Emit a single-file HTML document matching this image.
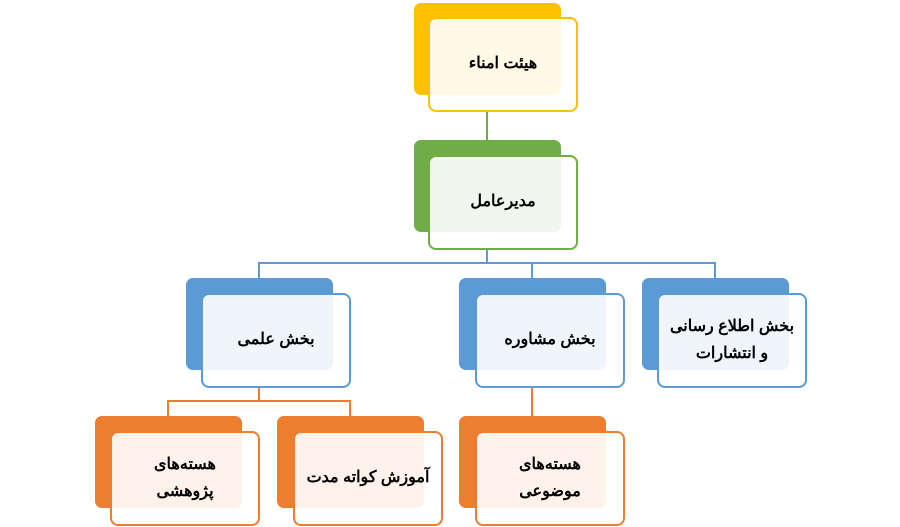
<!DOCTYPE html>
<html><head><meta charset="utf-8"><style>
body{margin:0;width:900px;height:527px;background:#fff;position:relative;overflow:hidden;font-family:"Liberation Sans","Noto Sans CJK SC",sans-serif}
.b{position:absolute;width:147px;height:92px;border-radius:7px}
.f{position:absolute;width:146px;height:89px;border:2px solid;border-radius:8px;background:rgba(255,255,255,0.9);display:flex;align-items:center;justify-content:center;text-align:center;direction:rtl;font-size:16px;font-weight:bold;line-height:27px;color:#000;box-sizing:content-box;padding-bottom:2px}
.l{position:absolute}
</style></head><body>
<svg class="l" width="900" height="527" style="left:0;top:0">
<path d="M487 112V140" stroke="#70ad47" stroke-width="2" fill="none"/>
<path d="M487 249V263M259 278V263H715V278M532 263V278" stroke="#5b9bd5" stroke-width="2" fill="none"/>
<path d="M259 387V401M168 416V401H350V416M532 387V416" stroke="#ed7d31" stroke-width="2" fill="none"/>
</svg>
<div class="b" style="left:414px;top:3px;background:#ffc000"></div>
<div class="f" style="left:428px;top:17px;border-color:#ffc000">هیئت امناء</div>
<div class="b" style="left:414px;top:140px;background:#70ad47"></div>
<div class="f" style="left:428px;top:155px;border-color:#70ad47">مدیرعامل</div>
<div class="b" style="left:186px;top:278px;background:#5b9bd5"></div>
<div class="f" style="left:201px;top:293px;border-color:#5b9bd5">بخش علمی</div>
<div class="b" style="left:459px;top:278px;background:#5b9bd5"></div>
<div class="f" style="left:475px;top:293px;border-color:#5b9bd5">بخش مشاوره</div>
<div class="b" style="left:642px;top:278px;background:#5b9bd5"></div>
<div class="f" style="left:657px;top:293px;border-color:#5b9bd5">بخش اطلاع رسانی<br>و انتشارات</div>
<div class="b" style="left:95px;top:416px;background:#ed7d31"></div>
<div class="f" style="left:110px;top:431px;border-color:#ed7d31">هسته‌های<br>پژوهشی</div>
<div class="b" style="left:277px;top:416px;background:#ed7d31"></div>
<div class="f" style="left:293px;top:431px;border-color:#ed7d31">آموزش کواته مدت</div>
<div class="b" style="left:459px;top:416px;background:#ed7d31"></div>
<div class="f" style="left:475px;top:431px;border-color:#ed7d31">هسته‌های<br>موضوعی</div>
</body></html>
